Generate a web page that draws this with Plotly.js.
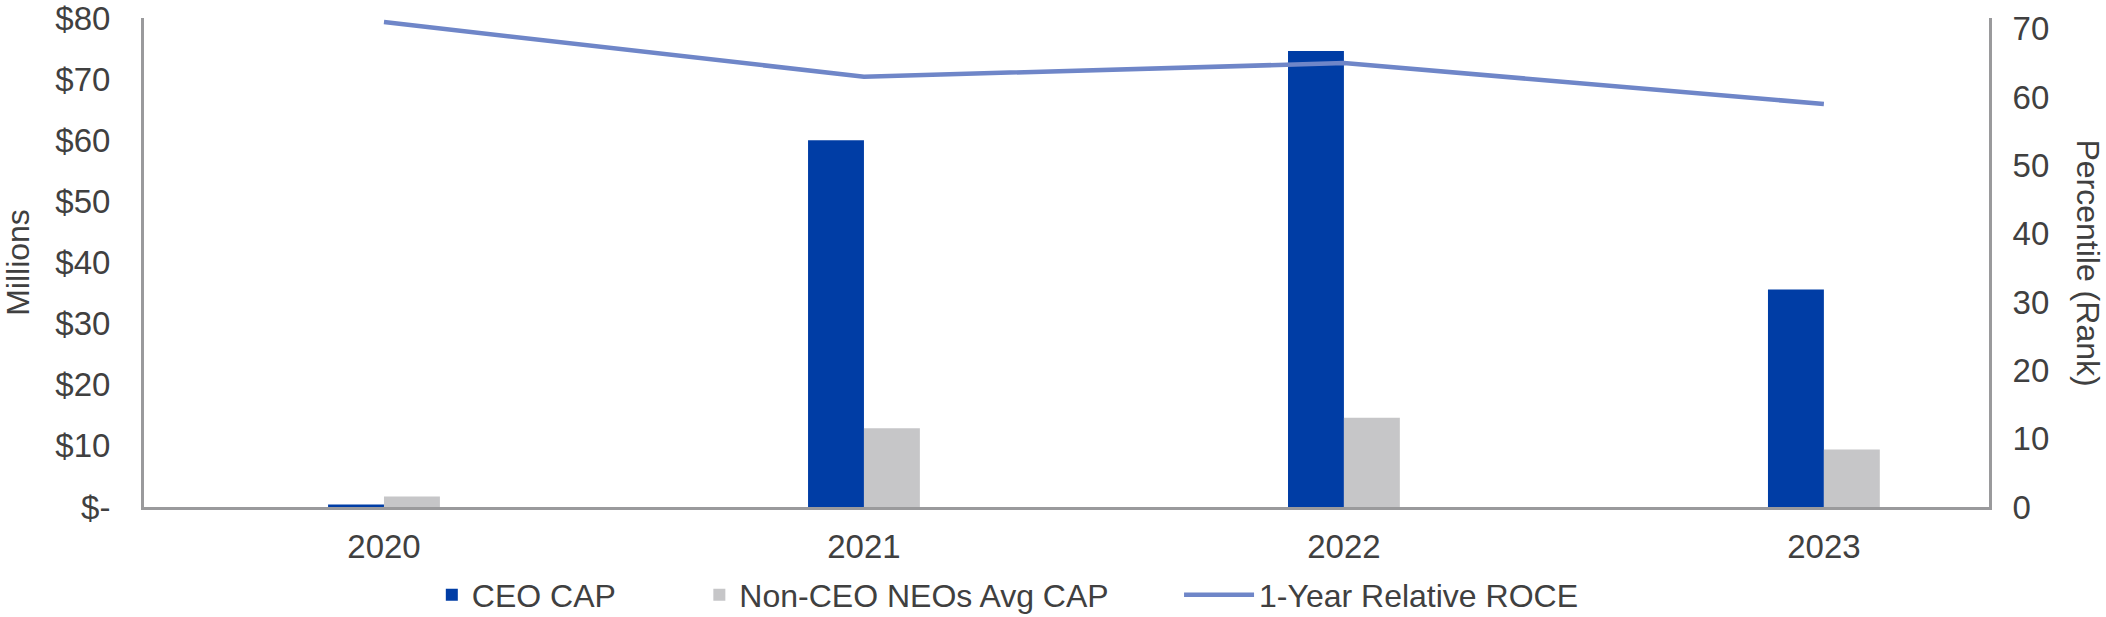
<!DOCTYPE html>
<html>
<head>
<meta charset="utf-8">
<script src="https://cdn.plot.ly/plotly-3.0.1.min.js"></script>
<style>
  html, body { margin: 0; padding: 0; background: #ffffff; }
  #chart { width: 2106px; height: 617px; }
</style>
</head>
<body>
<div id="chart"></div>
<script>
// ---- data ----
const years = ["2020", "2021", "2022", "2023"];
const ceoCap = [0.4, 60.0, 74.6, 35.6];            // $ millions
const nonCeoAvgCap = [1.7, 12.9, 14.6, 9.4];       // $ millions
const relativeRoce = [71, 63, 65, 59];             // percentile (rank)

const leftTickVals = [0, 10, 20, 30, 40, 50, 60, 70, 80];
const leftTickText = ["$-", "$10", "$20", "$30", "$40", "$50", "$60", "$70", "$80"];
const rightTickVals = [0, 10, 20, 30, 40, 50, 60, 70];

const seriesNames = ["CEO CAP", "Non-CEO NEOs Avg CAP", "1-Year Relative ROCE"];
const leftTitle = "Millions";
const rightTitle = "Percentile (Rank)";

// ---- styles ----
const FONT = "Liberation Sans, Arial, Helvetica, sans-serif";
const TEXT = "#404040";
const AXIS = "#9a9a9c";
const LEGEND_FONT = { family: FONT, size: 32, color: TEXT };

const traces = [
  {
    type: "bar", name: seriesNames[0], x: years, y: ceoCap, legend: "legend",
    marker: { color: "#003DA5" }, yaxis: "y", hoverinfo: "skip"
  },
  {
    type: "bar", name: seriesNames[1], x: years, y: nonCeoAvgCap, legend: "legend2",
    marker: { color: "#C6C6C8" }, yaxis: "y", hoverinfo: "skip"
  },
  {
    type: "scatter", mode: "lines", name: seriesNames[2], x: years, y: relativeRoce, legend: "legend3",
    line: { color: "#6F86C8", width: 4.5 }, yaxis: "y2", hoverinfo: "skip"
  }
];

const legendBase = { orientation: "h", xanchor: "left", y: -0.18, yanchor: "middle", font: LEGEND_FONT, bgcolor: "rgba(0,0,0,0)" };

const layout = {
  width: 2106, height: 617,
  margin: { l: 144, r: 117, t: 18, b: 110, pad: 0, autoexpand: false },
  paper_bgcolor: "#ffffff", plot_bgcolor: "#ffffff",
  font: { family: FONT, size: 32, color: TEXT },
  barmode: "group", bargap: 0.767, bargroupgap: 0,
  showlegend: true,
  legend: Object.assign({}, legendBase, { x: 0.156 }),
  legend2: Object.assign({}, legendBase, { x: 0.301 }),
  legend3: Object.assign({}, legendBase, { x: 0.561, itemwidth: 70 }),
  xaxis: {
    type: "category", range: [-0.5, 3.344],
    showline: true, linecolor: AXIS, linewidth: 3,
    showgrid: false, zeroline: false, ticks: "",
    tickfont: { family: FONT, size: 33, color: TEXT },
    ticklabelstandoff: 8, ticklabeloverflow: "allow"
  },
  yaxis: {
    range: [0, 80.02], tickvals: leftTickVals, ticktext: leftTickText,
    showline: true, linecolor: AXIS, linewidth: 3,
    showgrid: false, zeroline: false, ticks: "",
    tickfont: { family: FONT, size: 33, color: TEXT },
    ticklabelstandoff: 24, ticklabeloverflow: "allow",
    title: { text: leftTitle, font: { family: FONT, size: 32, color: TEXT }, standoff: 22 },
    automargin: false
  },
  yaxis2: {
    overlaying: "y", side: "right", range: [0, 71.6], tickvals: rightTickVals,
    showline: true, linecolor: AXIS, linewidth: 3,
    showgrid: false, zeroline: false, ticks: "",
    tickfont: { family: FONT, size: 33, color: TEXT },
    ticklabelstandoff: 14, ticklabeloverflow: "allow", automargin: false
  },
  annotations: [
    {
      text: rightTitle, xref: "paper", yref: "paper", x: 1.0537, y: 0.5,
      xanchor: "center", yanchor: "middle", textangle: 90, showarrow: false,
      font: { family: FONT, size: 32, color: TEXT }
    }
  ]
};

Plotly.newPlot("chart", traces, layout, { staticPlot: true, displayModeBar: false });
</script>
</body>
</html>
